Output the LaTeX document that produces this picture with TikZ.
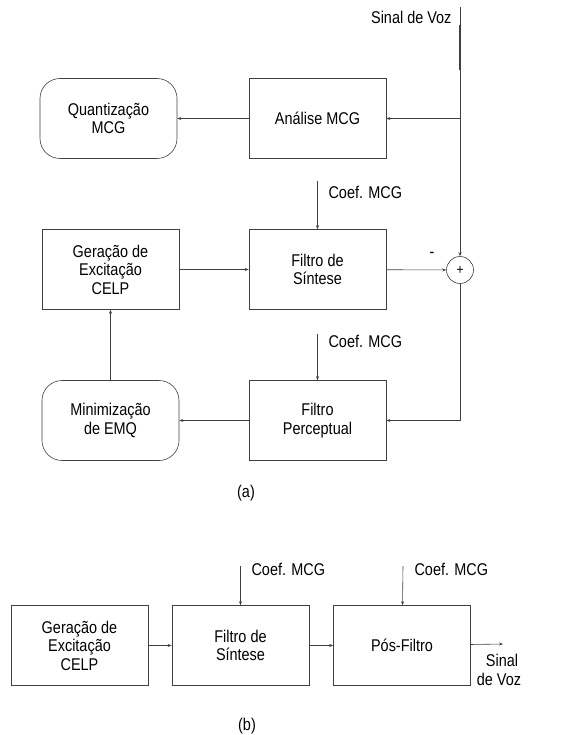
\documentclass[tikz,border=0pt]{standalone}
\usepackage{fontspec}
\setmainfont{Liberation Sans}[FakeStretch=0.85]
\usetikzlibrary{arrows.meta}
\begin{document}
\begin{tikzpicture}[x=1pt,y=-1pt,font=\fontsize{17}{18.5}\selectfont]
\tikzstyle{block} = [draw=black!75,rectangle,line width=0.6pt,minimum width=137pt,minimum height=80pt,align=center,inner sep=0pt]
\tikzstyle{rblock} = [block,rounded corners=20pt]
\tikzstyle{sum} = [draw=black!75,circle,line width=0.6pt,inner sep=0pt,minimum size=27pt,font=\fontsize{14}{14}\selectfont]
\tikzstyle{connector} = [-{Stealth[length=4pt,width=3pt]},draw=black!75,line width=0.6pt]
\tikzstyle{line} = [draw=black!75,line width=0.6pt]
\useasboundingbox (0,0) rectangle (560,735);

\node[rblock](qnt) at (108.5,118.5){Quantização\\MCG};
\node[block](anl) at (317.5,118.5){Análise MCG};
\node[block](ger) at (110.5,269.5){Geração de\\Excitação\\CELP};
\node[block](sint) at (317.5,269.5){Filtro de\\Síntese};
\node[sum](soma) at (460,270){+};
\node[block](perc) at (317.5,420.5){Filtro\\Perceptual};
\node[rblock](mini) at (110.5,420.5){Minimização\\de EMQ};
\coordinate(in) at (460,7);
\coordinate(c1) at (317.5,181);
\coordinate(c2) at (317.5,334);
\node[anchor=east](voz) at (455,17){Sinal de Voz};
\node[anchor=west](lc1) at (325,192){Coef. MCG};
\node[anchor=west](lc2) at (325,341){Coef. MCG};
\node(menos) at (432,255){-};
\node(a) at (246,493){(a)};

\draw [connector] (in) -- (soma);
\draw [line,line width=1.8pt] (460,25) -- (460,70);
\draw [connector] (in |- anl) -- (anl);
\draw [connector] (anl) -- (qnt);
\draw [connector] (c1) -- (sint);
\draw [connector] (ger) -- (sint);
\draw [connector] (sint) -- (soma);
\draw [connector] (soma) |- (perc);
\draw [connector] (c2) -- (perc);
\draw [connector] (perc) -- (mini);
\draw [connector] (mini) -- (ger);

\node[block](ger2) at (79.5,645.5){Geração de\\Excitação\\CELP};
\node[block](sint2) at (240.5,645.5){Filtro de\\Síntese};
\node[block](pos) at (402,645.5){Pós-Filtro};
\coordinate(c3) at (240.5,566);
\coordinate(c4) at (403,566);
\coordinate(out) at (503,644);
\node[anchor=west](lc3) at (248,569){Coef. MCG};
\node[anchor=west](lc4) at (411,569){Coef. MCG};
\node[align=center](voz2) at (499,670){\hspace*{6pt}Sinal\\de Voz};
\node(b) at (247,726){(b)};

\draw [connector] (c3) -- (sint2);
\draw [connector] (c4) -- (pos);
\draw [connector] (ger2) -- (sint2);
\draw [connector] (sint2) -- (pos);
\draw [connector] (pos) -- (out);
\end{tikzpicture}
\end{document}
